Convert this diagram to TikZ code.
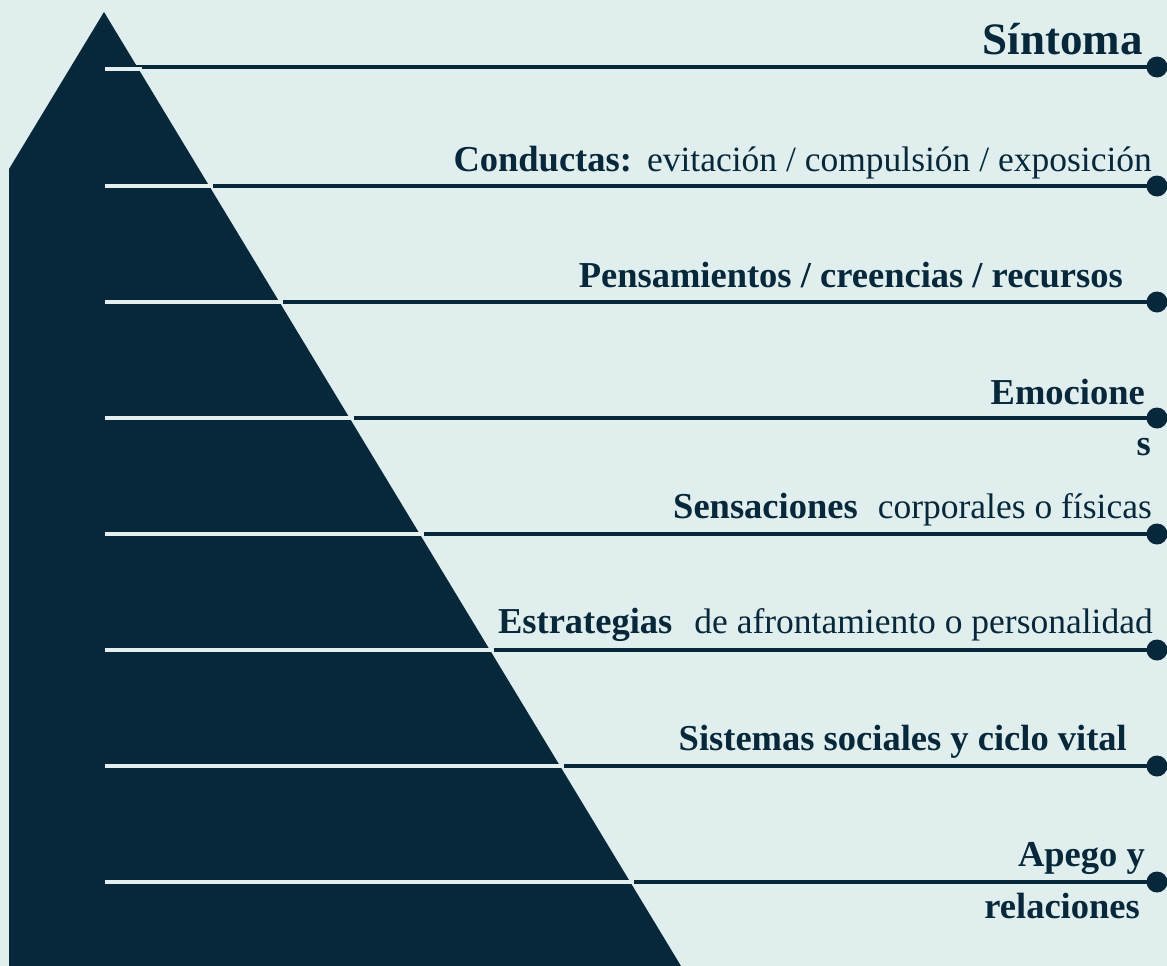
\documentclass[tikz,border=0pt]{standalone}
\usepackage{fontspec}
\setmainfont{Liberation Serif}
\definecolor{bgc}{HTML}{E0EEEE}
\definecolor{navy}{HTML}{06283A}
\definecolor{wline}{HTML}{E4F0F0}
\tikzset{
  darkline/.style={draw=navy, line width=4.5pt},
  whiteline/.style={draw=wline, line width=4pt},
  enddot/.style={circle, fill=navy, inner sep=0pt, minimum size=21pt},
  lbl/.style={anchor=base east, inner sep=0pt, text=navy, font=\fontsize{35.5}{42}\selectfont},
  blbl/.style={lbl, font=\fontsize{36.5}{42}\selectfont\bfseries},
}
\newcommand{\boldword}[1]{{\fontsize{36.5}{42}\selectfont\bfseries #1}}
\begin{document}
\begin{tikzpicture}[x=1pt, y=-1pt]
\useasboundingbox (0,0) rectangle (1167,966);
\fill[bgc] (0,0) rectangle (1167,966);
% dark connectors from triangle edge to end dots
\foreach \i/\y in {1/67, 2/186, 3/302, 4/418, 5/534, 6/650, 7/766, 8/882} {
  \pgfmathsetmacro{\ex}{104+(\y-12)*0.605}
  \coordinate (e\i) at (\ex-2,\y);
  \node[enddot] (d\i) at (1157,\y) {};
  \draw[darkline] (e\i) -- (d\i.center);
}
% pyramid
\fill[navy] (104,12) coordinate (apex) -- (681,966) -- (9,966) -- (9,169) -- cycle;
% white segments inside the pyramid
\foreach \i/\y in {1/69, 2/186, 3/302, 4/418, 5/534, 6/650, 7/766, 8/882} {
  \pgfmathsetmacro{\wx}{104+(\y-12)*0.605+4}
  \coordinate (ws\i) at (105,\y);
  \coordinate (we\i) at (\wx,\y);
  \draw[whiteline] (ws\i) -- (we\i);
}
% labels
\node[anchor=base east, inner sep=0pt, text=navy, font=\fontsize{45}{50}\selectfont\bfseries] (t1) at (1143,55) {Síntoma};
\node[lbl] (t2) at (1152,171) {\boldword{Conductas:}\hspace{15pt}evitación / compulsión / exposición};
\node[blbl] (t3) at (1123,287) {Pensamientos / creencias / recursos};
\node[blbl] (t4) at (1145,404) {Emocione};
\node[blbl] (t4b) at (1151,455) {s};
\node[lbl] (t5) at (1152,518) {\boldword{Sensaciones}\hspace{20pt}corporales o físicas};
\node[lbl] (t6) at (1153,633) {\boldword{Estrategias}\hspace{22pt}de afrontamiento o personalidad};
\node[blbl] (t7) at (1127,750) {Sistemas sociales y ciclo vital};
\node[blbl] (t8) at (1145,866) {Apego y};
\node[blbl] (t8b) at (1140,918) {relaciones};
\end{tikzpicture}
\end{document}
